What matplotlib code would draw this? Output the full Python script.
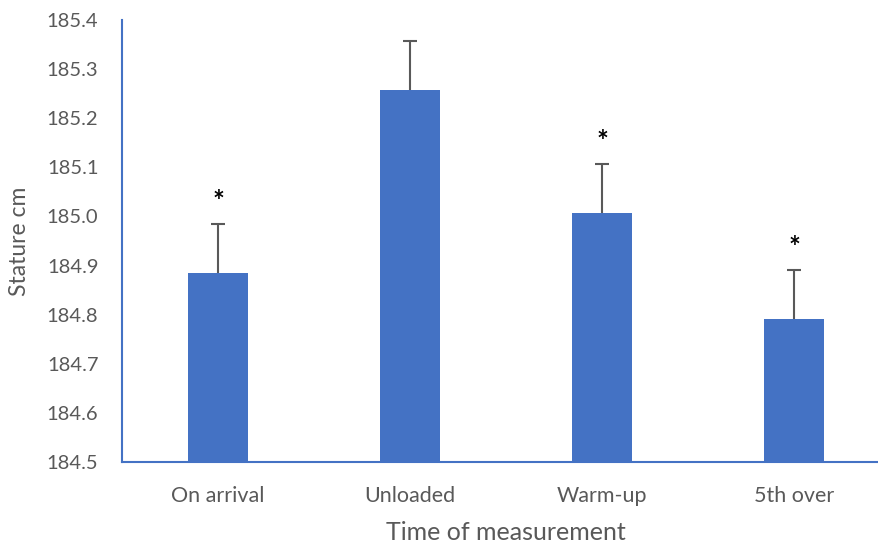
import matplotlib.pyplot as plt

categories = ["On arrival", "Unloaded", "Warm-up", "5th over"]
stature = [184.885, 185.257, 185.007, 184.792]
error_up = [0.1, 0.1, 0.1, 0.1]
significant = [True, False, True, True]

plt.rcParams['font.family'] = ['Lato', 'DejaVu Sans']

fig = plt.figure(figsize=(8.79, 5.44), dpi=100)
ax = fig.add_axes([0.1388, 0.1507, 0.8737, 0.8125])

x = list(range(len(categories)))
ax.bar(x, [v - 184.5 for v in stature], bottom=184.5, width=0.3125,
       color='#4472C4', zorder=2)

# upper error bars only
tops = [v + e for v, e in zip(stature, error_up)]
ax.vlines(x, stature, tops, color='#595959', linewidth=1.5, zorder=3)
ax.hlines(tops, [i - 0.035 for i in x], [i + 0.035 for i in x],
          color='#595959', linewidth=1.5, zorder=3)

for i, (t, s) in enumerate(zip(tops, significant)):
    if s:
        ax.text(i, t + 0.018, "*", ha='center', va='bottom',
                fontsize=20, fontweight='bold', color='black')

ax.set_xlim(-0.5, 3.5)
ax.set_ylim(184.5, 185.4)
ax.set_yticks([184.5 + 0.1 * k for k in range(10)])
ax.set_yticklabels([f"{184.5 + 0.1 * k:.1f}" for k in range(10)])
ax.set_xticks(x)
ax.set_xticklabels(categories)

for side in ['top', 'right']:
    ax.spines[side].set_visible(False)
for side in ['left', 'bottom']:
    ax.spines[side].set_color('#4472C4')
    ax.spines[side].set_linewidth(1.5)

ax.tick_params(axis='y', length=0, labelsize=14.5, colors='#595959', pad=17)
ax.tick_params(axis='x', length=0, labelsize=15.5, colors='#595959', pad=17)
ax.set_xlabel("Time of measurement", fontsize=18, color='#595959', labelpad=11)
ax.set_ylabel("Stature cm", fontsize=16.5, color='#595959', labelpad=12)

fig.savefig("out.png", dpi=100)
